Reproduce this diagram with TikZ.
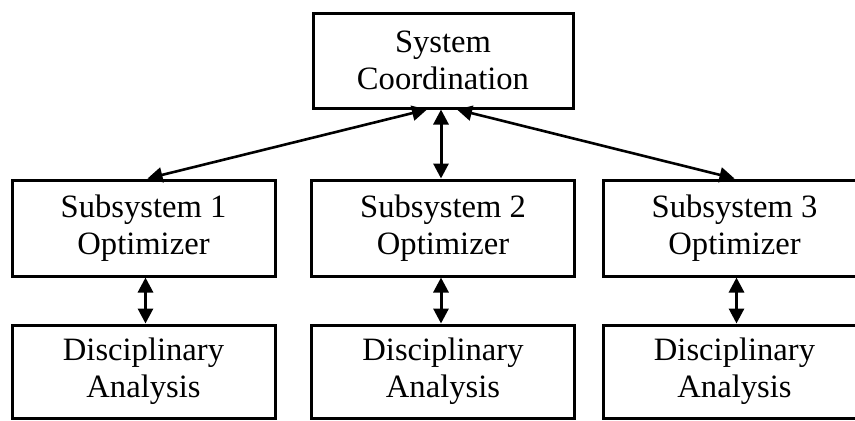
\documentclass[tikz,border=0pt]{standalone}
\usepackage{fontspec}
\setmainfont{Liberation Serif}
\usetikzlibrary{arrows.meta}

\begin{document}
\begin{tikzpicture}[<->,>={Triangle[length=7.5pt,width=7.5pt]},line width=1.3pt,
  block/.style={rectangle,draw,line width=1.5pt,align=center,
    font=\fontsize{16.3}{18.5}\selectfont,minimum height=48pt,minimum width=131.5pt},
  top/.style={block,minimum height=47.5pt,minimum width=130pt},
  disc/.style={block,minimum height=46.5pt}]

  \useasboundingbox (0,0) rectangle (427.5pt,-210pt);

  \node[top] (Sys) at (221.5pt,-30.25pt) {System\\Coordination};
  \node[block] (Sub2) [node distance=83.75pt, below of=Sys] {Subsystem 2\\Optimizer};
  \node[block] (Sub1) [node distance=149.75pt, left of=Sub2] {Subsystem 1\\Optimizer};
  \node[block] (Sub3) [node distance=145.75pt, right of=Sub2] {Subsystem 3\\Optimizer};
  \node[disc] (Dis1) [node distance=71.75pt, below of=Sub1] {Disciplinary\\Analysis};
  \node[disc] (Dis2) [node distance=71.75pt, below of=Sub2] {Disciplinary\\Analysis};
  \node[disc] (Dis3) [node distance=71.75pt, below of=Sub3] {Disciplinary\\Analysis};

  \path
  ([xshift=-8pt]Sys.south) edge ([xshift=2pt]Sub1.north)
  ([xshift=-1pt]Sys.south) edge [line width=1.5pt] ([xshift=-1pt]Sub2.north)
  ([xshift=7pt]Sys.south) edge (Sub3.north)
  ;

  \path[line width=1.5pt]
  ([xshift=1pt]Sub1.south) edge ([xshift=1pt]Dis1.north)
  ([xshift=-1pt]Sub2.south) edge ([xshift=-1pt]Dis2.north)
  ([xshift=1pt]Sub3.south) edge ([xshift=1pt]Dis3.north)
  ;
\end{tikzpicture}
\end{document}
